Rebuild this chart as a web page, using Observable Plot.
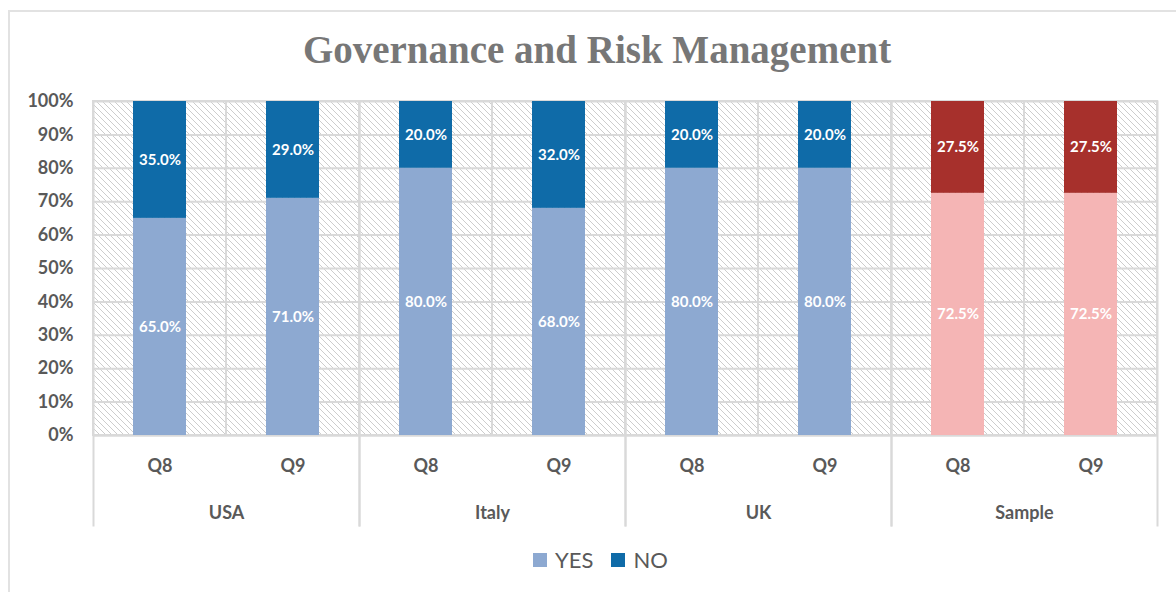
<!DOCTYPE html>
<html>
<head>
<meta charset="utf-8">
<script src="https://cdn.jsdelivr.net/npm/d3@7"></script>
<script src="https://cdn.jsdelivr.net/npm/@observablehq/plot@0.6"></script>
<style>
  html, body { margin: 0; padding: 0; background: #fff; overflow: hidden; }
  #wrap { position: relative; width: 1176px; height: 592px; overflow: hidden; background: #fff; }
  #border { position: absolute; left: 8px; top: 10px; width: 1300px; height: 700px; border-top: 2px solid #e2e2e2; border-left: 2px solid #e2e2e2; box-sizing: border-box; }
  #title { position: absolute; left: 0; top: 30px; width: 1194px; text-align: center; font-family: "Liberation Serif", serif; font-weight: bold; font-size: 39px; line-height: 39px; color: #777777; white-space: nowrap; }
  #chart { position: absolute; left: 0; top: 0; }
  #legend { position: absolute; left: 533px; top: 546px; display: flex; align-items: center; font-family: Lato, sans-serif; font-size: 22px; color: #595959; }
  #legend .sw { display: inline-block; width: 14px; height: 14px; margin-right: 8px; }
  #legend .item { display: flex; align-items: center; margin-right: 18px; }
</style>
</head>
<body>
<svg width="0" height="0" style="position:absolute">
  <defs>
    <pattern id="hatch" patternUnits="userSpaceOnUse" width="6" height="6">
      <rect width="6" height="6" fill="#ffffff"></rect>
      <path d="M-1,-1 L7,7 M-1,5 L1,7 M5,-1 L7,1" stroke="#cdcdcd" stroke-width="1"></path>
    </pattern>
  </defs>
</svg>
<div id="wrap">
  <div id="border"></div>
  <div id="title">Governance and Risk Management</div>
  <div id="chart"></div>
  <div id="legend"></div>
</div>
<script>
// ---- data ----
const countries = ["USA", "Italy", "UK", "Sample"];
const questions = ["Q8", "Q9"];
const series = ["YES", "NO"];
// values in order USA Q8, USA Q9, Italy Q8, Italy Q9, UK Q8, UK Q9, Sample Q8, Sample Q9
const yesValues = [0.65, 0.71, 0.80, 0.68, 0.80, 0.80, 0.725, 0.725];
const noValues  = [0.35, 0.29, 0.20, 0.32, 0.20, 0.20, 0.275, 0.275];
const yTicks = [0, 0.1, 0.2, 0.3, 0.4, 0.5, 0.6, 0.7, 0.8, 0.9, 1.0];

// ---- styles ----
const colorKeys = ["YES", "NO", "Sample YES", "Sample NO"];
const colorRange = ["#8DA9D1", "#0F6BA8", "#F5B5B5", "#A7302C"];

// ---- table ----
const slots = [];
const rows = [];
countries.forEach((c, i) => {
  questions.forEach((q, j) => {
    const k = i * questions.length + j;
    slots.push({country: c, q});
    rows.push({country: c, q, series: "YES", value: yesValues[k]});
    rows.push({country: c, q, series: "NO", value: noValues[k]});
  });
});
const colorKey = d => (d.country === "Sample" ? "Sample " : "") + d.series;
const fmt = d3.format(".1%");

const grid = "#d9d9d9";

const chart = Plot.plot({
  width: 1176,
  height: 530,
  marginTop: 101,
  marginBottom: 95,
  marginLeft: 92,
  marginRight: 18,
  style: {fontFamily: "Lato, sans-serif", fontWeight: "bold", fontSize: "18px", color: "#595959", background: "transparent", overflow: "visible"},
  fx: {domain: countries, padding: 0, axis: "bottom", tickSize: 0, tickPadding: 71, label: null},
  x: {domain: questions, padding: 0, axis: "bottom", tickSize: 0, tickPadding: 24, label: null},
  y: {domain: [0, 1], ticks: yTicks, tickFormat: d3.format(".0%"), tickSize: 0, tickPadding: 20, label: null},
  color: {domain: colorKeys, range: colorRange},
  marks: [
    // hatched slot backgrounds with slot borders
    Plot.barY(slots, {fx: "country", x: "q", y1: 0, y2: 1, fill: "url(#hatch)", stroke: grid, strokeWidth: 2, inset: 0}),
    Plot.gridY(yTicks, {stroke: grid, strokeOpacity: 1, strokeWidth: 2}),
    // group separators extending into the category axis
    Plot.frame({anchor: "left", insetBottom: -90, stroke: grid, strokeWidth: 2}),
    Plot.frame({anchor: "right", insetBottom: -90, stroke: grid, strokeWidth: 2}),
    Plot.ruleY([0], {stroke: grid, strokeWidth: 2}),
    Plot.barY(rows, Plot.stackY({fx: "country", x: "q", y: "value", fill: colorKey, insetLeft: 40, insetRight: 40})),
    Plot.text(rows, Plot.stackY({fx: "country", x: "q", y: "value", text: d => fmt(d.value), fill: "white", fontSize: 15, fontWeight: "bold"}))
  ]
});
document.getElementById("chart").appendChild(chart);

// legend
const legend = document.getElementById("legend");
series.forEach((s, i) => {
  const item = document.createElement("span");
  item.className = "item";
  const sw = document.createElement("span");
  sw.className = "sw";
  sw.style.background = colorRange[i];
  item.appendChild(sw);
  item.appendChild(document.createTextNode(s));
  legend.appendChild(item);
});
</script>
</body>
</html>
